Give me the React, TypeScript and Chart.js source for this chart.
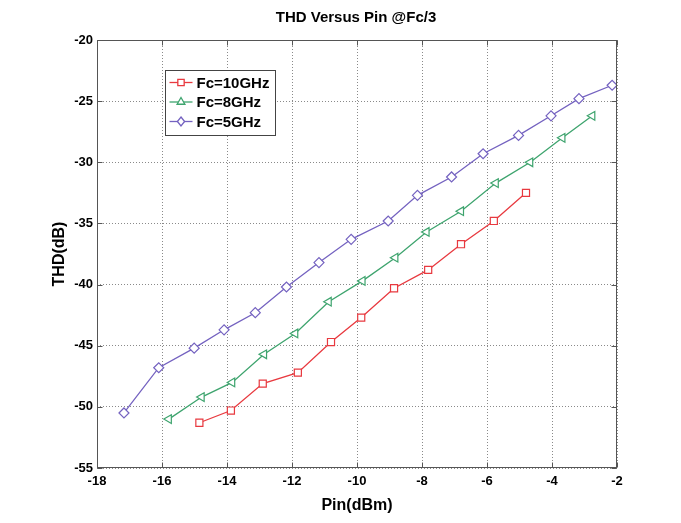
import React, { useEffect, useRef } from 'react';
import { Chart, registerables } from 'chart.js';
Chart.register(...registerables);

const chartTitle = 'THD Versus Pin @Fc/3';
const xTitle = 'Pin(dBm)';
const yTitle = 'THD(dB)';
const seriesLabels = ['Fc=10GHz', 'Fc=8GHz', 'Fc=5GHz'];
const seriesColors = ['#e8393f', '#3ea46e', '#7462c0'];

const pin10 = [-14.85, -13.88, -12.9, -11.82, -10.8, -9.87, -8.86, -7.81, -6.8, -5.79, -4.8];
const thd10 = [-51.3, -50.3, -48.1, -47.2, -44.7, -42.7, -40.3, -38.8, -36.7, -34.8, -32.5];
const pin8 = [-15.79, -14.78, -13.84, -12.86, -11.9, -10.87, -9.83, -8.82, -7.86, -6.8, -5.73, -4.67, -3.68, -2.76];
const thd8 = [-51.0, -49.2, -48.0, -45.7, -44.0, -41.4, -39.7, -37.8, -35.7, -34.0, -31.7, -30.0, -28.0, -26.2];
const pin5 = [-17.17, -16.1, -15.01, -14.09, -13.13, -12.17, -11.17, -10.18, -9.04, -8.14, -7.09, -6.12, -5.03, -4.03, -3.17, -2.15];
const thd5 = [-50.5, -46.8, -45.2, -43.7, -42.3, -40.2, -38.2, -36.3, -34.8, -32.7, -31.2, -29.3, -27.8, -26.2, -24.8, -23.7];

const xMin = -18, xMax = -2, xStep = 2;
const yMin = -55, yMax = -20, yStep = 5;

const FONT = "'Liberation Sans', Arial, Helvetica, sans-serif";

const pts = (xs: number[], ys: number[]) => xs.map((x, i) => ({ x, y: ys[i] }));

function drawMarker(ctx: CanvasRenderingContext2D, style: string, x: number, y: number, r: number) {
  ctx.beginPath();
  if (style === 'rect') {
    const s = r * Math.SQRT1_2;
    ctx.rect(x - s, y - s, 2 * s, 2 * s);
  } else if (style === 'triangle') {
    ctx.moveTo(x, y - r);
    ctx.lineTo(x + r * 0.866, y + r * 0.5);
    ctx.lineTo(x - r * 0.866, y + r * 0.5);
    ctx.closePath();
  } else {
    ctx.moveTo(x, y - r);
    ctx.lineTo(x + r * 0.8, y);
    ctx.lineTo(x, y + r);
    ctx.lineTo(x - r * 0.8, y);
    ctx.closePath();
  }
  ctx.fillStyle = '#ffffff';
  ctx.fill();
  ctx.stroke();
}

const framePlugin = {
  id: 'frameAndLegend',
  afterDatasetsDraw(chart: any) {
    const { ctx, chartArea: a, scales } = chart;
    const L = Math.round(a.left) + 0.5, R = Math.round(a.right) - 0.5;
    const T = Math.round(a.top) + 0.5, B = Math.round(a.bottom) - 0.5;
    ctx.save();
    ctx.strokeStyle = '#555';
    ctx.lineWidth = 1;
    ctx.setLineDash([]);
    ctx.strokeRect(L, T, R - L, B - T);
    const tl = 5;
    ctx.beginPath();
    scales.x.ticks.forEach((t: any) => {
      const px = Math.round(scales.x.getPixelForValue(t.value)) + 0.5;
      ctx.moveTo(px, B); ctx.lineTo(px, B - tl);
      ctx.moveTo(px, T); ctx.lineTo(px, T + tl);
    });
    scales.y.ticks.forEach((t: any) => {
      const py = Math.round(scales.y.getPixelForValue(t.value)) + 0.5;
      ctx.moveTo(L, py); ctx.lineTo(L + tl, py);
      ctx.moveTo(R, py); ctx.lineTo(R - tl, py);
    });
    ctx.stroke();

    // legend box inside plot
    const bx = 165.5, by = 70.5, bw = 110, bh = 65;
    ctx.fillStyle = '#ffffff';
    ctx.fillRect(bx, by, bw, bh);
    ctx.strokeStyle = '#444';
    ctx.strokeRect(bx, by, bw, bh);
    chart.data.datasets.forEach((ds: any, i: number) => {
      const cy = by + 12 + i * 19.5;
      ctx.strokeStyle = ds.borderColor;
      ctx.lineWidth = 1.3;
      ctx.beginPath();
      ctx.moveTo(bx + 4, cy);
      ctx.lineTo(bx + 27, cy);
      ctx.stroke();
      drawMarker(ctx, ds.pointStyle, bx + 15.5, cy, 4.5);
      ctx.fillStyle = '#000';
      ctx.font = `bold 15px ${FONT}`;
      ctx.textBaseline = 'middle';
      ctx.textAlign = 'left';
      ctx.fillText(ds.label, bx + 31, cy + 1);
    });
    ctx.restore();
  },
};

export default function App() {
  const ref = useRef<HTMLCanvasElement>(null);
  useEffect(() => {
    if (!ref.current) return;
    const mk = (i: number, data: any[], style: string, rot: number) => ({
      label: seriesLabels[i],
      data,
      borderColor: seriesColors[i],
      backgroundColor: seriesColors[i],
      borderWidth: 1.3,
      pointStyle: style,
      pointRotation: rot,
      pointRadius: 5,
      pointBorderWidth: 1.2,
      pointBorderColor: seriesColors[i],
      pointBackgroundColor: '#ffffff',
      showLine: true,
      fill: false,
      tension: 0,
    });
    const chart = new Chart(ref.current, {
      type: 'line',
      data: {
        datasets: [
          mk(0, pts(pin10, thd10), 'rect', 0),
          mk(1, pts(pin8, thd8), 'triangle', -90),
          mk(2, pts(pin5, thd5), 'rectRot', 0),
        ],
      },
      options: {
        animation: false,
        responsive: false,
        maintainAspectRatio: false,
        layout: { padding: { left: 31, right: 0, top: 0, bottom: 0 } },
        plugins: {
          legend: { display: false },
          tooltip: { enabled: false },
          title: {
            display: true,
            text: chartTitle,
            color: '#000',
            font: { family: FONT, size: 15, weight: 'bold', lineHeight: 1.2 },
            padding: { top: 9, bottom: 13 },
          },
        },
        scales: {
          x: {
            type: 'linear',
            position: 'bottom',
            min: xMin,
            max: xMax,
            ticks: {
              stepSize: xStep,
              color: '#000',
              padding: 6,
              font: { family: FONT, size: 13, weight: 'bold' },
            },
            grid: { color: '#8a8a8a', lineWidth: 1, drawTicks: false },
            border: { display: false, dash: [1, 2] },
            title: {
              display: true,
              text: xTitle,
              color: '#000',
              font: { family: FONT, size: 16, weight: 'bold', lineHeight: 1.2 },
              padding: { top: 0, bottom: 8 },
            },
            afterFit: (s: any) => { s.height = 55; },
          },
          y: {
            type: 'linear',
            position: 'left',
            min: yMin,
            max: yMax,
            ticks: {
              stepSize: yStep,
              color: '#000',
              padding: 4,
              font: { family: FONT, size: 13, weight: 'bold' },
            },
            grid: { color: '#8a8a8a', lineWidth: 1, drawTicks: false },
            border: { display: false, dash: [1, 2] },
            title: {
              display: true,
              text: yTitle,
              color: '#000',
              font: { family: FONT, size: 16, weight: 'bold', lineHeight: 1.2 },
              padding: { top: 19, bottom: 0 },
            },
            afterFit: (s: any) => { s.width = 66; },
          },
          yRight: {
            type: 'linear',
            position: 'right',
            display: true,
            ticks: { display: false },
            grid: { display: false, drawTicks: false },
            border: { display: false },
            afterFit: (s: any) => { s.width = 64; },
          },
        },
      } as any,
      plugins: [framePlugin],
    });
    return () => chart.destroy();
  }, []);
  return (
    <div style={{ position: 'absolute', left: 0, top: 0, width: 681, height: 523, background: '#fff' }}>
      <canvas ref={ref} width={681} height={523} style={{ display: 'block' }} />
    </div>
  );
}
